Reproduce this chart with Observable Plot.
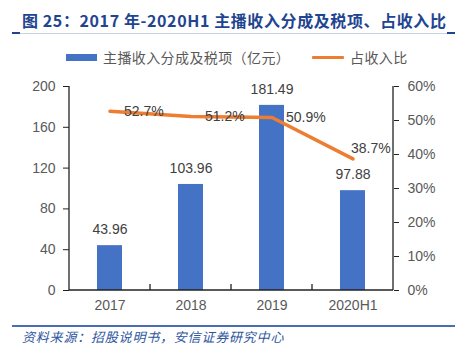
<!DOCTYPE html>
<html>
<head>
<meta charset="utf-8">
<script src="https://cdn.jsdelivr.net/npm/d3@7"></script>
<script src="https://cdn.jsdelivr.net/npm/@observablehq/plot@0.6"></script>
<style>
  body { margin: 0; background: #fff; }
  #wrap { position: relative; width: 462px; height: 358px; overflow: hidden; font-family: "Liberation Sans", Arial, sans-serif; }
  #title { position: absolute; left: 22px; top: 8px; font-family: "Noto Sans CJK SC", sans-serif; font-weight: bold; font-size: 16px; letter-spacing: 0.6px; color: #1f4591; white-space: nowrap; line-height: 24px; }
  #uline { position: absolute; left: 12px; top: 33px; width: 443px; height: 1px; background: #c9d1e3; }
  .cap { position: absolute; top: 32px; width: 8px; height: 2px; background: #1f4591; }
  #legend { position: absolute; top: 47px; left: 0; width: 462px; height: 20px; font-family: "Noto Sans CJK SC", sans-serif; font-size: 14px; color: #595959; }
  .sw { position: absolute; }
  .lt { position: absolute; top: 0; line-height: 20px; white-space: nowrap; letter-spacing: 0.4px; }
  #fline { position: absolute; left: 12px; top: 325px; width: 443px; height: 2px; background: #4a6db3; }
  #source { position: absolute; left: 22px; top: 329px; font-family: "Noto Sans CJK SC", sans-serif; font-style: italic; font-size: 13px; letter-spacing: 0.8px; color: #2e55a0; white-space: nowrap; line-height: 16px; }
  #chart { position: absolute; left: 0; top: 0; }
</style>
</head>
<body>
<div id="wrap">
  <div id="chart"></div>
  <div id="title">图 25：2017 年-2020H1 主播收入分成及税项、占收入比</div>
  <div id="uline"></div>
  <div class="cap" style="left:12px"></div>
  <div class="cap" style="left:447px"></div>
  <div id="legend">
    <div class="sw" style="left:66px;top:7px;width:31px;height:7px;background:#4472C4"></div>
    <div class="lt" id="lt1" style="left:103px"></div>
    <div class="sw" style="left:312px;top:9px;width:32px;height:3px;background:#ED7D31;border-radius:1px"></div>
    <div class="lt" id="lt2" style="left:350px"></div>
  </div>
  <div id="fline"></div>
  <div id="source">资料来源：招股说明书，安信证券研究中心</div>
</div>
<script>
const categories = ["2017", "2018", "2019", "2020H1"];
const revenue = [43.96, 103.96, 181.49, 97.88];
const share = [52.7, 51.2, 50.9, 38.7];
const leftTicks = [0, 40, 80, 120, 160, 200];
const rightTicks = [0, 10, 20, 30, 40, 50, 60];
const seriesNames = ["主播收入分成及税项（亿元）", "占收入比"];

document.getElementById("lt1").textContent = seriesNames[0];
document.getElementById("lt2").textContent = seriesNames[1];

const LMAX = 200, RMAX = 60;
const toLeft = p => p * LMAX / RMAX;

const rows = categories.map((c, i) => ({cat: c, rev: revenue[i], pct: share[i], pctY: toLeft(share[i])}));
const lastRow = [rows[rows.length - 1]];
const otherRows = rows.slice(0, -1);

const axisLines = (index, scales, values, dim) => {
  const g = d3.create("svg:g").attr("stroke", "#222").attr("stroke-width", 1.3).attr("fill", "none");
  const x0 = dim.marginLeft, x1 = dim.width - dim.marginRight;
  const y0 = dim.height - dim.marginBottom, y1 = dim.marginTop;
  g.append("line").attr("x1", x0).attr("x2", x0).attr("y1", y0).attr("y2", y1);
  g.append("line").attr("x1", x1).attr("x2", x1).attr("y1", y0).attr("y2", y1);
  g.append("line").attr("x1", x0).attr("x2", x1).attr("y1", y0).attr("y2", y0);
  categories.slice(1).forEach(c => {
    const xx = scales.x(c);
    g.append("line").attr("x1", xx).attr("x2", xx).attr("y1", y0).attr("y2", y0 - 6);
  });
  return g.node();
};

const plot = Plot.plot({
  width: 462,
  height: 358,
  marginTop: 86,
  marginBottom: 68,
  marginLeft: 69,
  marginRight: 69,
  style: {fontFamily: "'Liberation Sans', Arial, sans-serif", fontSize: "14px", color: "#595959", background: "transparent"},
  x: {domain: categories, padding: 0, label: null},
  y: {domain: [0, LMAX], label: null},
  marks: [
    Plot.barY(rows, {x: "cat", y: "rev", fill: "#4472C4", insetLeft: 28, insetRight: 28}),
    Plot.line(rows, {x: "cat", y: "pctY", stroke: "#ED7D31", strokeWidth: 3.5, strokeLinecap: "round", strokeLinejoin: "round"}),
    Plot.text(rows, {x: "cat", y: "rev", text: d => d.rev.toFixed(2), dy: -16, fill: "#404040", fontSize: 14}),
    Plot.text(otherRows, {x: "cat", y: "pctY", text: d => d.pct.toFixed(1) + "%", dx: 14, textAnchor: "start", fill: "#404040", fontSize: 14}),
    Plot.text(lastRow, {x: "cat", y: "pctY", text: d => d.pct.toFixed(1) + "%", dx: -2, dy: -10, textAnchor: "start", fill: "#404040", fontSize: 14}),
    Plot.axisY({ticks: leftTicks, tickSize: 6, tickPadding: 8, tickFormat: d => String(d), stroke: "#222", fill: "#595959", fontSize: 14, label: null}),
    Plot.axisY({anchor: "right", ticks: rightTicks.map(toLeft), tickSize: 5, tickPadding: 9, tickFormat: d => Math.round(d * RMAX / LMAX) + "%", stroke: "#222", fill: "#595959", fontSize: 14, label: null}),
    Plot.axisX({tickSize: 0, tickPadding: 10, fill: "#595959", fontSize: 14, label: null}),
    axisLines
  ]
});
document.getElementById("chart").appendChild(plot);
</script>
</body>
</html>
